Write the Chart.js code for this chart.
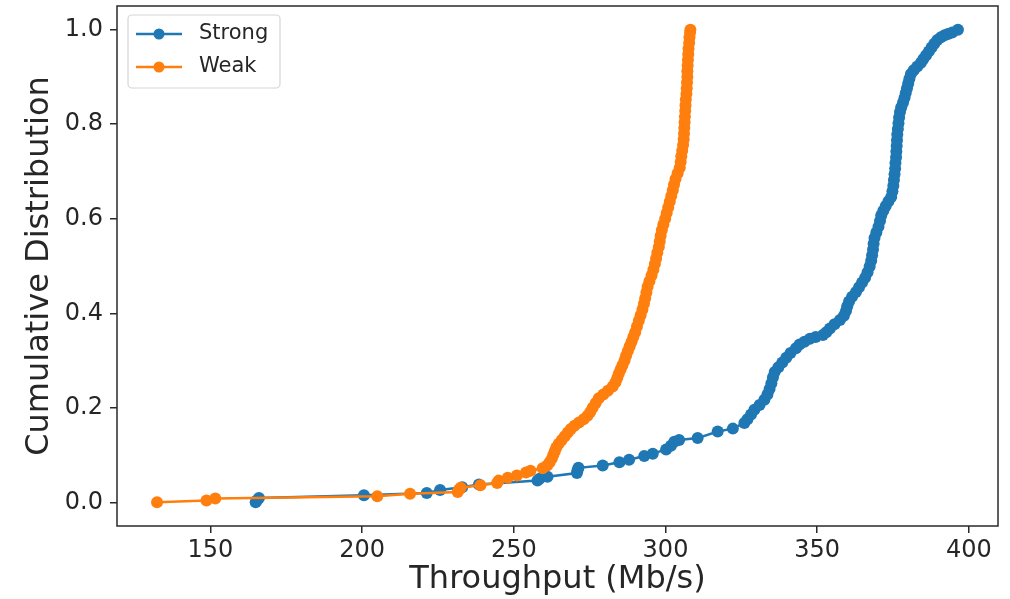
<!DOCTYPE html>
<html>
<head>
<meta charset="utf-8">
<title>Throughput CDF</title>
<script src="https://cdn.jsdelivr.net/npm/chart.js@4.4.1/dist/chart.umd.min.js"></script>
<style>
  html, body { margin: 0; padding: 0; background: #fff; }
  #wrap { width: 1010px; height: 599px; }
</style>
</head>
<body>
<div id="wrap"><canvas id="cdfChart" width="1010" height="599"></canvas></div>
<script>
// throughput (Mb/s) and cumulative fraction for each link type
const strongX = [164.9, 165.3, 166.0, 200.6, 221.3, 225.7, 233.0, 238.5, 257.8, 258.5,
  261.1, 270.8, 271.0, 271.3, 279.3, 284.8, 288.0, 293.0, 295.8, 300.2,
  301.8, 302.9, 304.5, 310.6, 317.2, 322.2, 326.0, 327.0, 328.2, 329.3,
  331.0, 332.6, 333.6, 334.3, 334.9, 335.4, 336.0, 337.2, 338.5, 339.8,
  341.2, 343.0, 344.2, 345.8, 347.6, 349.5, 351.9, 353.0, 354.2, 355.7,
  357.5, 358.8, 359.5, 359.9, 360.5, 361.5, 362.8, 363.8, 364.8, 365.8,
  366.6, 367.3, 367.8, 368.1, 368.4, 368.6, 368.9, 369.5, 370.2, 370.7,
  371.1, 371.8, 372.6, 373.5, 374.4, 374.8, 375.1, 375.3, 375.5, 375.7,
  375.8, 376.0, 376.1, 376.2, 376.3, 376.4, 376.6, 376.8, 377.0, 377.3,
  377.7, 378.3, 378.8, 379.2, 379.6, 380.0, 380.4, 380.9, 381.8, 383.0,
  384.2, 385.0, 385.9, 386.8, 387.7, 388.6, 389.6, 390.8, 392.0, 393.1,
  394.5, 396.4];
const strongY = [0.000, 0.004, 0.009, 0.015, 0.020, 0.026, 0.032, 0.038, 0.046, 0.050,
  0.054, 0.062, 0.068, 0.073, 0.078, 0.085, 0.090, 0.098, 0.103, 0.112,
  0.120, 0.128, 0.132, 0.136, 0.150, 0.156, 0.168, 0.176, 0.186, 0.196,
  0.206, 0.217, 0.228, 0.240, 0.252, 0.264, 0.276, 0.286, 0.296, 0.306,
  0.316, 0.326, 0.334, 0.340, 0.346, 0.350, 0.354, 0.360, 0.368, 0.377,
  0.386, 0.395, 0.405, 0.415, 0.425, 0.435, 0.445, 0.455, 0.465, 0.475,
  0.487, 0.499, 0.511, 0.523, 0.535, 0.547, 0.559, 0.571, 0.583, 0.595,
  0.607, 0.617, 0.627, 0.637, 0.646, 0.658, 0.670, 0.682, 0.694, 0.706,
  0.718, 0.730, 0.742, 0.754, 0.766, 0.778, 0.790, 0.802, 0.814, 0.826,
  0.836, 0.846, 0.856, 0.866, 0.876, 0.886, 0.896, 0.906, 0.914, 0.922,
  0.930, 0.938, 0.946, 0.954, 0.962, 0.970, 0.978, 0.984, 0.988, 0.991,
  0.994, 1.000];

const weakX = [132.4, 148.7, 151.6, 205.0, 215.8, 231.5, 232.0, 232.5, 239.0, 244.5,
  245.0, 248.0, 251.0, 254.0, 255.5, 259.5, 261.0, 261.8, 262.5, 263.0,
  263.5, 264.0, 264.8, 265.8, 266.8, 267.8, 268.8, 270.0, 271.5, 273.0,
  274.3, 275.2, 276.0, 277.0, 278.0, 279.5, 281.0, 282.6, 283.5, 284.1,
  284.6, 285.2, 285.8, 286.5, 287.0, 287.6, 288.2, 288.8, 289.4, 290.0,
  290.6, 291.2, 291.8, 292.4, 292.9, 293.3, 293.7, 294.1, 294.7, 295.4,
  296.0, 296.5, 296.9, 297.3, 297.8, 298.1, 298.4, 298.8, 299.3, 299.9,
  300.4, 300.9, 301.4, 301.9, 302.4, 302.8, 303.3, 304.0, 304.7, 305.0,
  305.2, 305.5, 305.8, 306.0, 306.1, 306.2, 306.3, 306.4, 306.5, 306.6,
  306.7, 306.9, 307.0, 307.1, 307.2, 307.2, 307.3, 307.4, 307.5, 307.6,
  307.8, 307.9, 308.1, 308.2];
const weakY = [0.000, 0.004, 0.008, 0.013, 0.018, 0.022, 0.027, 0.031, 0.036, 0.041,
  0.046, 0.052, 0.057, 0.063, 0.067, 0.072, 0.078, 0.085, 0.092, 0.100,
  0.108, 0.116, 0.124, 0.132, 0.140, 0.148, 0.155, 0.162, 0.169, 0.176,
  0.183, 0.191, 0.200, 0.210, 0.220, 0.228, 0.236, 0.245, 0.254, 0.263,
  0.272, 0.281, 0.290, 0.300, 0.310, 0.320, 0.330, 0.340, 0.350, 0.360,
  0.372, 0.384, 0.396, 0.408, 0.420, 0.432, 0.444, 0.456, 0.468, 0.480,
  0.492, 0.504, 0.516, 0.528, 0.540, 0.552, 0.564, 0.576, 0.588, 0.600,
  0.612, 0.624, 0.636, 0.648, 0.660, 0.672, 0.684, 0.696, 0.708, 0.720,
  0.732, 0.744, 0.756, 0.768, 0.780, 0.792, 0.804, 0.816, 0.828, 0.840,
  0.852, 0.864, 0.876, 0.888, 0.900, 0.912, 0.924, 0.936, 0.948, 0.960,
  0.972, 0.984, 0.994, 1.000];

const seriesNames = ['Strong', 'Weak'];
const xTicks = [150, 200, 250, 300, 350, 400];
const yTicks = [0.0, 0.2, 0.4, 0.6, 0.8, 1.0];

const BLUE = '#1f77b4';
const ORANGE = '#ff7f0e';
const AXIS = '#2a2a2a';
const FONT = 'DejaVu Sans, sans-serif';

function toPoints(xs, ys) {
  return xs.map((x, i) => ({ x: x, y: ys[i] }));
}

// full box around the plot area (matplotlib style spines)
const frame = {
  id: 'frame',
  afterDatasetsDraw(chart) {
    const { ctx, chartArea: a } = chart;
    ctx.save();
    ctx.strokeStyle = AXIS;
    ctx.lineWidth = 1.5;
    ctx.strokeRect(a.left, a.top, a.right - a.left, a.bottom - a.top);
    ctx.restore();
  }
};

// legend box drawn inside the upper-left corner
const innerLegend = {
  id: 'innerLegend',
  afterDraw(chart) {
    const { ctx } = chart;
    const x0 = 128, y0 = 15, w = 152, h = 73, r = 4;
    ctx.save();
    ctx.beginPath();
    ctx.roundRect(x0, y0, w, h, r);
    ctx.fillStyle = 'rgba(255,255,255,0.8)';
    ctx.fill();
    ctx.strokeStyle = '#d6d6d6';
    ctx.lineWidth = 1.2;
    ctx.stroke();

    chart.data.datasets.forEach((ds, i) => {
      const yy = 34 + i * 33;
      ctx.strokeStyle = ds.borderColor;
      ctx.lineWidth = 2.5;
      ctx.beginPath();
      ctx.moveTo(136, yy);
      ctx.lineTo(182, yy);
      ctx.stroke();
      ctx.fillStyle = ds.backgroundColor;
      ctx.beginPath();
      ctx.arc(159, yy, 5.5, 0, Math.PI * 2);
      ctx.fill();
      ctx.fillStyle = '#262626';
      ctx.font = '21px ' + FONT;
      ctx.textAlign = 'left';
      ctx.textBaseline = 'middle';
      ctx.fillText(ds.label, 199, yy);
    });
    ctx.restore();
  }
};

const ctx = document.getElementById('cdfChart').getContext('2d');
new Chart(ctx, {
  type: 'line',
  data: {
    datasets: [
      {
        label: seriesNames[0],
        data: toPoints(strongX, strongY),
        borderColor: BLUE,
        backgroundColor: BLUE,
        borderWidth: 2.5,
        pointRadius: 6,
        pointBorderWidth: 0,
        pointHoverRadius: 6,
        order: 1
      },
      {
        label: seriesNames[1],
        data: toPoints(weakX, weakY),
        borderColor: ORANGE,
        backgroundColor: ORANGE,
        borderWidth: 2.5,
        pointRadius: 6,
        pointBorderWidth: 0,
        pointHoverRadius: 6,
        order: 0
      }
    ]
  },
  options: {
    responsive: false,
    devicePixelRatio: 1,
    animation: false,
    layout: { padding: { left: 0, right: 12, top: 5, bottom: 0 } },
    plugins: {
      legend: { display: false },
      tooltip: { enabled: false }
    },
    scales: {
      x: {
        type: 'linear',
        min: 119.2,
        max: 409.6,
        afterBuildTicks: (scale) => { scale.ticks = xTicks.map(v => ({ value: v })); },
        afterFit: (scale) => {
          scale.height = 73;
          scale.paddingLeft = 0;
          scale.paddingRight = 0;
        },
        grid: { drawOnChartArea: false, drawTicks: true, tickLength: 7, color: AXIS, lineWidth: 1.5 },
        border: { display: false },
        ticks: {
          color: '#262626',
          font: { family: FONT, size: 24 },
          padding: 3,
          maxRotation: 0,
          callback: (v) => String(v)
        },
        title: {
          display: true,
          text: 'Throughput (Mb/s)',
          color: '#262626',
          font: { family: FONT, size: 32 },
          padding: { top: 0, bottom: 0 }
        }
      },
      y: {
        type: 'linear',
        min: -0.05,
        max: 1.05,
        afterBuildTicks: (scale) => { scale.ticks = yTicks.map(v => ({ value: v })); },
        afterFit: (scale) => {
          scale.width = 117;
          scale.paddingTop = 0;
          scale.paddingBottom = 0;
        },
        grid: { drawOnChartArea: false, drawTicks: true, tickLength: 7, color: AXIS, lineWidth: 1.5 },
        border: { display: false },
        ticks: {
          color: '#262626',
          font: { family: FONT, size: 24 },
          padding: 7,
          callback: (v) => v.toFixed(1)
        },
        title: {
          display: true,
          text: 'Cumulative Distribution',
          color: '#262626',
          font: { family: FONT, size: 32 },
          padding: { top: 20, bottom: 0 }
        }
      }
    }
  },
  plugins: [frame, innerLegend]
});
</script>
</body>
</html>
